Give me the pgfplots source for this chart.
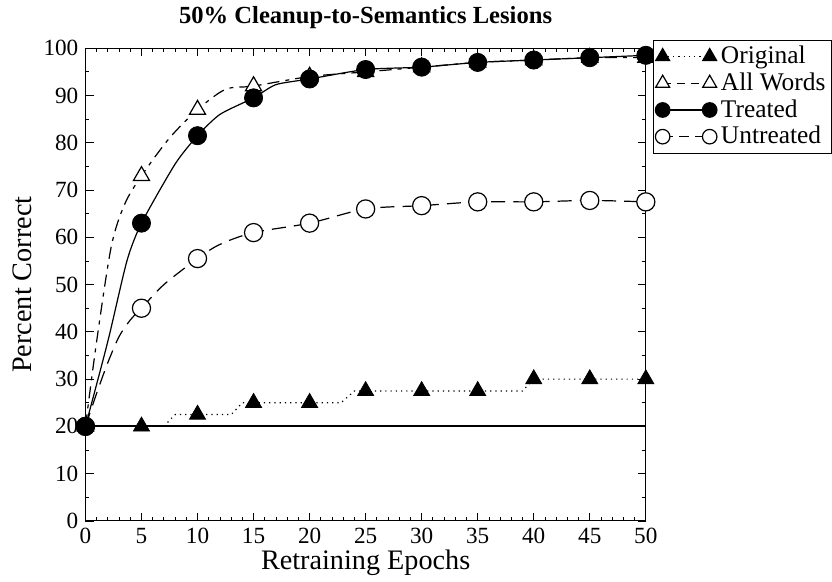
\documentclass[border=0pt]{standalone}
\usepackage{pgfplots}
\pgfplotsset{compat=1.18}
\usepackage{fontspec}
\setmainfont{Liberation Serif}
\begin{document}
\begin{tikzpicture}
\begin{axis}[
  scale only axis, width=278pt, height=234.5pt,
  xmin=0, xmax=50, ymin=0, ymax=100,
  xtick={0,5,...,50}, ytick={0,10,...,100},
  minor x tick num=4, minor y tick num=1,
  tick align=inside, major tick length=4pt, minor tick length=2pt,
  tick style={black, line width=0.4pt},
  /pgf/number format/assume math mode=true,
  ticklabel style={font=\fontsize{11.5}{12}\selectfont},
  xlabel={Retraining Epochs}, ylabel={Percent Correct},
  xlabel style={font=\fontsize{14}{15}\selectfont, yshift=4pt},
  ylabel style={font=\fontsize{14}{15}\selectfont, yshift=-1pt},
  title={50\% Cleanup-to-Semantics Lesions},
  title style={font=\fontsize{12.2}{13}\selectfont\bfseries, yshift=0pt},
  axis line style={line width=0.5pt},
  legend style={at={(1.0126,1.018)}, anchor=north west, draw=black,
    line width=0.5pt,
    font=\fontsize{12.6}{14}\selectfont, inner sep=1pt, row sep=-1pt,
    cells={anchor=west}},
  legend image code/.code={\draw[mark repeat=1,mark phase=1,#1]
    plot coordinates {(0cm,0cm) (0.82cm,0cm)};},
]
% chance baseline
\addplot[black, line width=1pt, forget plot] coordinates {(0,20) (50,20)};

% Original: stepped dotted curve, marks every 5 epochs
\addplot[black, dotted, line width=0.6pt, forget plot] coordinates {
 (0,20) (5,20) (7,20) (8,22.5) (13,22.5) (14,25) (22.8,25) (24,27.5)
 (39,27.5) (40,30) (50,30)};
\addplot[black, only marks, mark=triangle*, mark size=4.6pt, forget plot] coordinates {
 (0,20) (5,20) (10,22.5) (15,25) (20,25) (25,27.5) (30,27.5) (35,27.5)
 (40,30) (45,30) (50,30)};

% All Words
\addplot[black, dash pattern=on 6pt off 3pt on 2pt off 3pt, line width=0.6pt, smooth, tension=0.5, forget plot] coordinates {
 (0,20) (1,38) (2.3,58) (3.5,67) (5,73) (7.5,81) (10,87) (12.5,91.3)
 (15,92) (20,94) (25,95) (30,96) (35,97) (40,97.5) (45,98) (50,98)};
\addplot[black, only marks, mark=triangle*, mark size=4.6pt, mark options={fill=white, line width=0.6pt}, forget plot] coordinates {
 (0,20) (5,73) (10,87) (15,92) (20,94) (25,95) (30,96) (35,97)
 (40,97.5) (45,98) (50,98)};

% Untreated
\addplot[black, dash pattern=on 7pt off 4pt, line width=0.6pt, smooth, tension=0.5, forget plot] coordinates {
 (0,20) (1,27) (2,33.5) (3,39) (4,42.5) (5,45) (7,50) (10,55.5) (12,58.5)
 (15,61) (20,63) (25,66) (30,66.7) (35,67.5) (40,67.5) (45,67.8) (50,67.5)};
\addplot[black, only marks, mark=*, mark size=4.5pt, mark options={fill=white, line width=0.6pt}, forget plot] coordinates {
 (0,20) (5,45) (10,55.5) (15,61) (20,63) (25,66) (30,66.7) (35,67.5)
 (40,67.5) (45,67.8) (50,67.5)};

% Treated
\addplot[black, line width=0.6pt, smooth, tension=0.4, forget plot] coordinates {
 (0,20) (2,38) (3.7,55) (5,63) (8,75.5) (10,81.5) (12,86) (15,89.5)
 (17,92.3) (20,93.5) (25,95.5) (30,96) (35,97) (40,97.5) (45,98) (50,98.5)};
\addplot[black, only marks, mark=*, mark size=4.5pt, forget plot] coordinates {
 (0,20) (5,63) (10,81.5) (15,89.5) (20,93.5) (25,95.5) (30,96) (35,97)
 (40,97.5) (45,98) (50,98.5)};

% legend entries
\addlegendimage{black, dotted, line width=0.6pt, mark=triangle*, mark size=4pt, mark options={solid}}
\addlegendentry{Original}
\addlegendimage{black, dash pattern=on 4pt off 3pt, line width=0.6pt, mark=triangle*, mark size=4pt, mark options={solid, fill=white}}
\addlegendentry{All Words}
\addlegendimage{black, line width=0.6pt, mark=*, mark size=3.6pt}
\addlegendentry{Treated}
\addlegendimage{black, dash pattern=on 5pt off 3pt, line width=0.6pt, mark=*, mark size=3.6pt, mark options={solid, fill=white}}
\addlegendentry{Untreated}
\end{axis}
% a little white margin on the left
\path (current bounding box.west) ++(-3pt,0);
\end{tikzpicture}
\end{document}
